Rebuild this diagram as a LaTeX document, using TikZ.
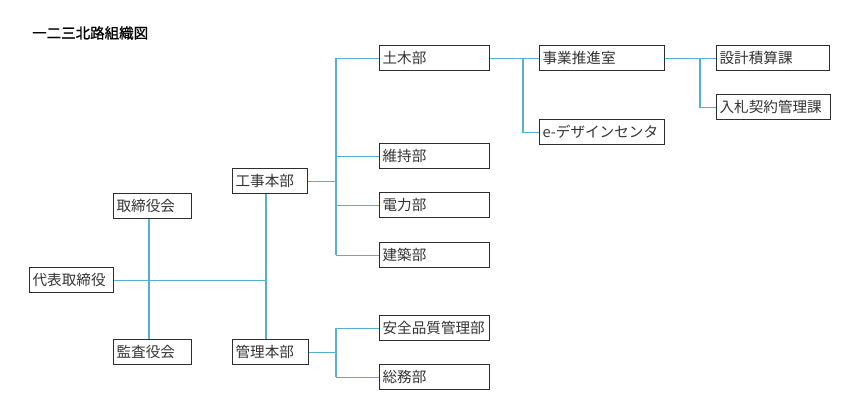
\documentclass[tikz,border=0pt]{standalone}
\usepackage{fontspec}
\newfontfamily\cjk{Noto Sans CJK JP}
\newfontfamily\cjkb[FakeBold=1.0]{Noto Sans CJK JP}
\definecolor{linkblue}{RGB}{86,176,206}
\definecolor{boxline}{RGB}{45,45,45}
\tikzset{
  orgbox/.style={draw=boxline, line width=1.2pt, anchor=north west, inner xsep=3pt, inner ysep=0pt,
    minimum height=25pt, align=left, font=\cjk\fontsize{14.6}{16}\selectfont, text=black!80},
  link/.style={draw=linkblue, line width=1.1pt}
}
\begin{document}
\begin{tikzpicture}[x=1pt,y=-1pt]
\useasboundingbox (0,0) rectangle (868,411);
\node[anchor=west, font=\cjkb\fontsize{14.5}{16}\selectfont, inner sep=0pt] (title) at (32,33) {一二三北路組織図};
% boxes
\node[orgbox, text width=78pt] (daihyo) at (29,267) {代表取締役};
\node[orgbox, text width=72pt] (torishimari) at (113,193) {取締役会};
\node[orgbox, text width=72pt] (kansa) at (113,339) {監査役会};
\node[orgbox, text width=69pt] (koji) at (232,168) {工事本部};
\node[orgbox, text width=70pt] (kanri) at (232,339) {管理本部};
\node[orgbox, text width=104pt] (doboku) at (379,45) {土木部};
\node[orgbox, text width=104pt] (iji) at (379,143) {維持部};
\node[orgbox, text width=104pt] (denryoku) at (379,192) {電力部};
\node[orgbox, text width=104pt] (kenchiku) at (379,242) {建築部};
\node[orgbox, text width=104pt] (anzen) at (379,315) {安全品質管理部};
\node[orgbox, text width=104pt] (somu) at (379,364) {総務部};
\node[orgbox, text width=119pt] (jigyo) at (539,45) {事業推進室};
\node[orgbox, text width=119pt] (edesign) at (539,119) {e-デザインセンタ};
\node[orgbox, text width=107pt] (sekkei) at (716,45) {設計積算課};
\node[orgbox, text width=108pt] (nyusatsu) at (716,94) {入札契約管理課};
% bus coordinates
\coordinate (busA) at (149,0);
\coordinate (busB) at (266,0);
\coordinate (busC) at (336,0);
\coordinate (busD) at (523,0);
\coordinate (busE) at (700,0);
% connectors
\draw[link] (torishimari.south -| busA) -- (kansa.north -| busA);
\draw[link] (koji.south -| busB) -- (kanri.north -| busB);
\draw[link] (daihyo.east) -- (daihyo.east -| busB);
\draw[link] (koji.east) -- (koji.east -| busC);
\draw[link] (doboku.west -| busC) -- (kenchiku.west -| busC);
\foreach \n in {doboku,iji,denryoku,kenchiku}{
  \draw[link] (\n.west -| busC) -- (\n.west);
}
\draw[link] (kanri.east) -- (kanri.east -| busC);
\draw[link] (anzen.west -| busC) -- (somu.west -| busC);
\draw[link] (anzen.west -| busC) -- (anzen.west);
\draw[link] (somu.west -| busC) -- (somu.west);
\draw[link] (doboku.east) -- (jigyo.west);
\draw[link] (jigyo.west -| busD) -- (edesign.west -| busD) -- (edesign.west);
\draw[link] (jigyo.east) -- (sekkei.west);
\draw[link] (sekkei.west -| busE) -- (nyusatsu.west -| busE) -- (nyusatsu.west);
\end{tikzpicture}
\end{document}
